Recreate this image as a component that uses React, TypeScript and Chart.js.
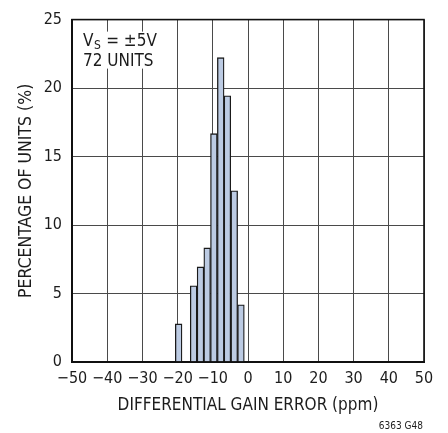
import React, { useEffect, useRef } from "react";
import { Chart, registerables } from "chart.js";

Chart.register(...registerables);

// ---- data ----
const binCenters = [-19.7, -15.45, -13.5, -11.6, -9.7, -7.75, -5.85, -3.9, -2.0];
const percentOfUnits = [2.78, 5.56, 6.94, 8.33, 16.67, 22.22, 19.44, 12.5, 4.17];

const xMin = -50;
const xMax = 50;
const xStep = 10;
const yMin = 0;
const yMax = 25;
const yStep = 5;

const xTitle = "DIFFERENTIAL GAIN ERROR (ppm)";
const yTitle = "PERCENTAGE OF UNITS (%)";
const noteMain = "V";
const noteSub = "S";
const noteRest = " = \u00B15V";
const noteLine2 = "72 UNITS";
const footnote = "6363 G48";

const NARROW = '"DejaVu Sans Condensed", "Liberation Sans Narrow", sans-serif';
const TEXT = "#1c1c1c";

const fmt = (v: number) => (v < 0 ? "\u2212" + Math.abs(v) : String(v));

const textPlugin = {
  id: "textPlugin",
  beforeDatasetsDraw(chart: any) {
    const { ctx, chartArea } = chart;
    ctx.save();
    ctx.fillStyle = "#ffffff";
    ctx.fillRect(chartArea.left + 8, chartArea.top + 12, 70, 37);
    ctx.restore();
  },
  afterDatasetsDraw(chart: any) {
    const { ctx, chartArea } = chart;
    ctx.save();
    ctx.strokeStyle = "#111";
    ctx.lineWidth = 1.6;
    ctx.strokeRect(chartArea.left, chartArea.top, chartArea.right - chartArea.left, chartArea.bottom - chartArea.top);

    ctx.fillStyle = TEXT;
    ctx.textAlign = "left";
    ctx.textBaseline = "alphabetic";
    const x0 = chartArea.left + 11;
    const b1 = chartArea.top + 26;
    ctx.font = `17px ${NARROW}`;
    ctx.fillText(noteMain, x0, b1);
    const wV = ctx.measureText(noteMain).width;
    ctx.font = `12px ${NARROW}`;
    ctx.fillText(noteSub, x0 + wV + 0.5, b1 + 3.5);
    const wS = ctx.measureText(noteSub).width;
    ctx.font = `17px ${NARROW}`;
    ctx.fillText(noteRest, x0 + wV + wS + 1, b1);
    ctx.fillText(noteLine2, x0, b1 + 20);

    ctx.font = `10px ${NARROW}`;
    ctx.textAlign = "right";
    ctx.fillText(footnote, chartArea.right - 1, 429);
    ctx.restore();
  },
};

export default function App() {
  const ref = useRef<HTMLCanvasElement | null>(null);

  useEffect(() => {
    if (!ref.current) return;
    const chart = new Chart(ref.current, {
      type: "bar",
      data: {
        datasets: [
          {
            data: binCenters.map((x, i) => ({ x, y: percentOfUnits[i] })),
            backgroundColor: "#bccbe3",
            borderColor: "#1a1a1a",
            borderWidth: 1.3,
            barPercentage: 1,
            categoryPercentage: 1,
          },
        ],
      },
      options: {
        animation: false,
        responsive: false,
        devicePixelRatio: 1,
        layout: { padding: { left: 0, top: 10, right: 24, bottom: 0 } },
        plugins: { legend: { display: false }, tooltip: { enabled: false } },
        scales: {
          x: {
            type: "linear",
            min: xMin,
            max: xMax,
            offset: false,
            afterFit: (s: any) => {
              s.height = 71;
            },
            ticks: {
              stepSize: xStep,
              callback: (v: any) => fmt(Number(v)),
              font: { family: NARROW, size: 16 },
              color: TEXT,
              padding: 7,
              maxRotation: 0,
              autoSkip: false,
            },
            grid: { color: "#4a4a4a", lineWidth: 1, drawTicks: false, offset: false },
            border: { display: true, color: "#111", width: 2 },
            title: {
              display: true,
              text: xTitle,
              font: { family: NARROW, size: 17 },
              color: TEXT,
              padding: { top: 0, bottom: 17 },
            },
          },
          y: {
            type: "linear",
            min: yMin,
            max: yMax,
            afterFit: (s: any) => {
              s.width = 72;
            },
            ticks: {
              stepSize: yStep,
              font: { family: NARROW, size: 16 },
              color: TEXT,
              padding: 10,
            },
            grid: { color: "#4a4a4a", lineWidth: 1, drawTicks: false },
            border: { display: true, color: "#111", width: 2 },
            title: {
              display: true,
              text: yTitle,
              font: { family: NARROW, size: 17.5 },
              color: TEXT,
              padding: { top: 16, bottom: 0 },
            },
          },
        },
      },
      plugins: [textPlugin],
    } as any);
    return () => chart.destroy();
  }, []);

  return (
    <div style={{ position: "absolute", left: 0, top: 0, width: 448, height: 433, background: "#fff" }}>
      <canvas ref={ref} width={448} height={433} style={{ display: "block" }} />
    </div>
  );
}
